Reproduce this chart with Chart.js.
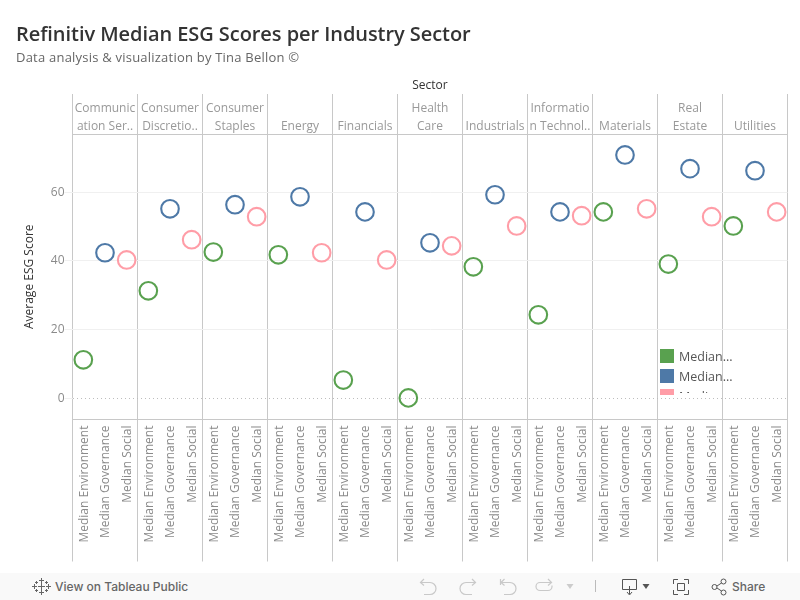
<!DOCTYPE html>
<html lang="en"><head><meta charset="utf-8">
<script src="https://cdn.jsdelivr.net/npm/chart.js@4/dist/chart.umd.min.js"></script>
<style>
html,body{margin:0;padding:0;background:#fff;overflow:hidden}
#wrap{position:relative;width:800px;height:600px;overflow:hidden;font-family:"Open Sans",sans-serif}
canvas{position:absolute;left:0;top:0}
#title{position:absolute;left:16px;top:20px;font-size:20px;font-weight:600;color:#333;white-space:nowrap;line-height:28px;letter-spacing:-.06px}
#sub{position:absolute;left:16px;top:48px;font-size:13px;color:#666;white-space:nowrap;line-height:18px;letter-spacing:.22px}
#legend{position:absolute;left:660px;top:346px;width:90px;height:49px;overflow:hidden;font-size:12.5px;color:#555}
#legend div{position:relative;height:20px}
#legend i{position:absolute;left:0;top:3px;width:14px;height:14px}
#legend span{position:absolute;left:19px;top:1px;height:20px;line-height:20px;white-space:nowrap;overflow:hidden}
#foot{position:absolute;left:0;top:573px;width:800px;height:27px;background:#f9f9f9;font-family:Inter,Roboto,sans-serif;font-size:12px;color:#666}
#foot span{position:absolute;top:6px;line-height:16px;font-weight:500}
#foot svg{position:absolute;left:0;top:0}
</style></head><body>
<div id="wrap">
<canvas id="c" width="800" height="600"></canvas>
<div id="title">Refinitiv Median ESG Scores per Industry Sector</div>
<div id="sub">Data analysis &amp; visualization by Tina Bellon ©</div>
<div id="legend"></div>
<div id="foot">
<svg width="800" height="27" fill="none" stroke="#777" stroke-width="1">
<g stroke="#666"><path d="M41.500 10v7M38 13.500h7M41.500 5v5M39 7.500h5M41.500 17v5M39 19.500h5M34.500 11v5M32 13.500h5M48.500 11v5M46 13.500h5M36.500 8v3M35 9.500h3M46.500 8v3M45 9.500h3M36.500 16v3M35 17.500h3M46.500 16v3M45 17.500h3"/></g>
<g stroke="#c9c9c9" stroke-width="1.200"><path d="M424 6l-3.500 3.500 3.500 3M420.500 9.500H430a6 6 0 0 1 0 12h-6"/><path d="M472 6l3.500 3.500-3.500 3M475.500 9.500H466a6 6 0 0 0 0 12h6"/><path d="M500.500 6v6M504.500 6l-3.500 3.500 3.500 3M501 9.500h9a6 6 0 0 1 0 12h-6"/><path d="M548 6l3.500 3.500-3.500 3M551 9.500h-11a4 4 0 0 0 0 8h8a4 4 0 0 0 4-4v-1"/></g>
<path d="M566.500 11h7l-3.500 5z" fill="#ccc" stroke="none"/>
<path d="M595.500 7v12" stroke="#bbb"/>
<path d="M622.500 6.500h14v10h-14zM629.500 13v8M627 19l2.500 3 2.500-3" stroke="#555"/>
<path d="M642.500 11h7l-3.500 5z" fill="#555" stroke="none"/>
<path d="M673.500 11V6.500H678M684 6.500h4.500V11M688.500 17v4.500H684M678 21.500h-4.500V17M677.500 10.500h7v7h-7z" stroke="#555"/>
<circle cx="714.500" cy="14" r="2.500" stroke="#555"/><circle cx="723.500" cy="8.500" r="2.500" stroke="#555"/><circle cx="723.500" cy="19.500" r="2.500" stroke="#555"/><path d="M717 13l4.500-3M717 15l4.500 3" stroke="#555"/>
</svg>
<span style="left:55px">View on Tableau Public</span>
<span style="left:732px">Share</span>
</div>
</div>
<script>
const sectors=[["Communic","ation Ser.."],["Consumer","Discretio.."],["Consumer","Staples"],"Energy","Financials",["Health","Care"],"Industrials",["Informatio","n Technol.."],"Materials",["Real","Estate"],"Utilities"];
const measures=["Median Environment","Median Governance","Median Social"];
const environment=[11.2,31.3,42.6,41.8,5.3,0.1,38.3,24.3,54.3,39.1,50.2];
const governance=[42.4,55.2,56.4,58.7,54.3,45.3,59.3,54.3,70.9,66.9,66.3];
const social=[40.3,46.2,52.9,42.4,40.3,44.4,50.2,53.2,55.2,52.9,54.3];
const yTicks=[0,20,40,60];
const colors=["#59a14f","#4e79a7","#ff9da7"];
const legendNames=["Median...","Median...","Median..."];

const labels=sectors.flatMap(()=>measures);
const series=[environment,governance,social];
const panelLine="#c8c8c8";
const fontFam='"Open Sans",sans-serif';

document.getElementById("legend").innerHTML=legendNames.map((n,i)=>`<div><i style="background:${colors[i]}"></i><span${i===2?' style="height:6px"':''}>${n}</span></div>`).join("");

new Chart(document.getElementById("c"),{
  type:"line",
  data:{labels,datasets:series.map((vals,m)=>({
    label:measures[m],
    data:labels.map((_,i)=>i%3===m?vals[Math.floor(i/3)]:null),
    showLine:false,spanGaps:false,
    pointStyle:"circle",pointRadius:8.8,pointBorderWidth:2.1,
    pointBorderColor:colors[m],pointBackgroundColor:"transparent",
    borderColor:colors[m],backgroundColor:"transparent",clip:false,
    xAxisID:"x",yAxisID:"y"
  }))},
  options:{
    responsive:false,animation:false,devicePixelRatio:1,
    layout:{padding:{left:0,right:12.5,top:0,bottom:0}},
    plugins:{legend:{display:false},tooltip:{enabled:false},title:{display:false}},
    scales:{
      x:{type:"category",position:"bottom",offset:true,
        afterFit(a){a.height=180.5;},
        border:{display:true,color:panelLine,width:1},
        grid:{offset:true,drawOnChartArea:false,drawTicks:true,tickLength:142,
          color(ctx){return panelLine;},
          tickColor(ctx){return ctx.index===undefined||ctx.index%3===0?panelLine:"rgba(0,0,0,0)";},
          tickWidth:1,lineWidth:1},
        ticks:{autoSkip:false,minRotation:90,maxRotation:90,padding:-136,labelOffset:1,color:"#8a8a8a",font:{family:fontFam,size:12}}
      },
      top:{type:"category",position:"top",offset:true,labels:sectors,
        afterFit(a){a.height=134;},
        title:{display:true,text:"Sector",color:"#333",font:{family:fontFam,size:12},padding:{top:78,bottom:0}},
        border:{display:true,color:panelLine,width:1},
        grid:{offset:true,drawOnChartArea:true,drawTicks:true,tickLength:40,color:panelLine,tickColor:panelLine,lineWidth:1},
        ticks:{autoSkip:false,minRotation:0,maxRotation:0,padding:-42,color:"#999",font:{family:fontFam,size:12,lineHeight:1.5}}
      },
      y:{type:"linear",position:"left",min:-6.2,max:77,
        afterFit(a){a.width=72.5;},
        afterBuildTicks(a){a.ticks=yTicks.map(v=>({value:v}));},
        title:{display:true,text:"Average ESG Score",color:"#333",font:{family:fontFam,size:12},padding:{top:22,bottom:0}},
        border:{display:false,dash(ctx){return ctx.tick&&ctx.tick.value===0?[1,3]:[];}},
        grid:{color(ctx){return ctx.tick&&ctx.tick.value===0?"#bdbdbd":"#f0f0f0";},tickColor:"#f0f0f0",tickLength:8,lineWidth:1},
        ticks:{padding:0,color:"#8a8a8a",font:{family:fontFam,size:12}}
      }
    }
  }
});
</script>
</body></html>
